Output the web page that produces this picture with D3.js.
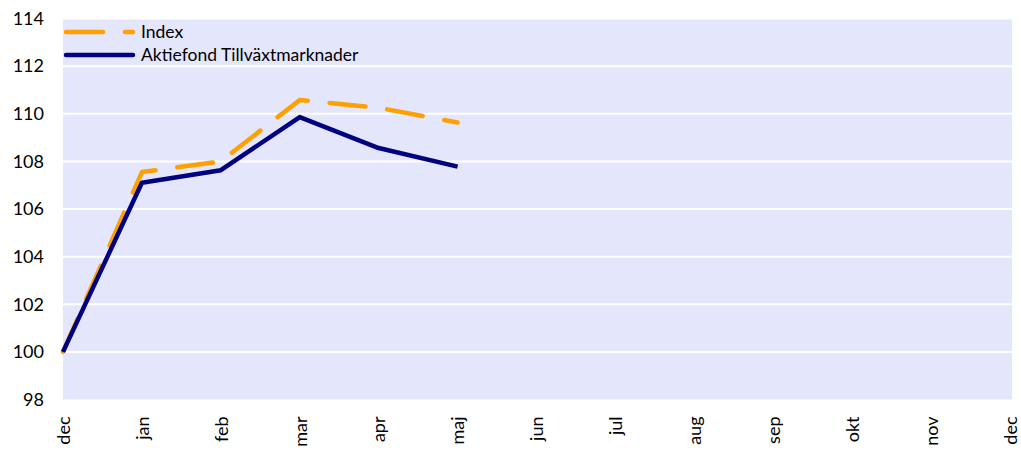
<!DOCTYPE html>
<html><head><meta charset="utf-8">
<script src="https://cdn.jsdelivr.net/npm/d3@7"></script>
<style>body{margin:0;background:#fff}svg{display:block}text{font-family:Lato,"Open Sans",sans-serif;fill:#000}</style>
</head><body><svg id="c" width="1021" height="452"></svg>
<script>
const months = ["dec","jan","feb","mar","apr","maj","jun","jul","aug","sep","okt","nov","dec"];
const indexVals = [100, 107.55, 108.0, 110.58, 110.25, 109.63];
const fundVals = [100, 107.1, 107.63, 109.86, 108.56, 107.78];
const yTicks = [98,100,102,104,106,108,110,112,114];
const seriesNames = ["Index","Aktiefond Tillväxtmarknader"];

const svg = d3.select("#c");
const L=63,R=1010,T=18.5,B=399.5;
const x = d3.scaleLinear().domain([0, months.length-1]).range([L,R]);
const y = d3.scaleLinear().domain([98,114]).range([B,T]);

svg.append("rect").attr("x",L).attr("y",T).attr("width",R-L+2).attr("height",B-T).attr("fill","#E4E6FC");
svg.append("g").selectAll("line").data(yTicks.slice(1)).join("line")
  .attr("x1",L).attr("x2",R+2).attr("y1",d=>y(d)).attr("y2",d=>y(d))
  .attr("stroke","#fff").attr("stroke-width",2);

const yAxis = svg.append("g").attr("transform",`translate(${L},0)`)
  .call(d3.axisLeft(y).tickValues(yTicks).tickSize(0).tickPadding(19));
yAxis.select(".domain").remove();
yAxis.selectAll("text").style("font-size","18px");

const xAxis = svg.append("g").attr("transform",`translate(0,${B})`)
  .call(d3.axisBottom(x).tickValues(d3.range(months.length)).tickFormat(i=>months[i]).tickSize(0));
xAxis.select(".domain").remove();
xAxis.selectAll("text").style("font-size","18px")
  .attr("text-anchor","end").attr("transform","rotate(-90)").attr("x",-17).attr("y",0).attr("dy","0.35em");

const line = d3.line().x((d,i)=>x(i)).y(d=>y(d));
svg.append("path").datum(indexVals).attr("d",line).attr("fill","none")
  .attr("stroke","#FFA000").attr("stroke-width",4.5).attr("stroke-dasharray","36,22").attr("stroke-linecap","round").attr("stroke-linejoin","round");
svg.append("path").datum(fundVals).attr("d",line).attr("fill","none")
  .attr("stroke","#000080").attr("stroke-width",4.5).attr("stroke-linejoin","round");

// legend
const lg = svg.append("g");
lg.append("line").attr("x1",66).attr("x2",103).attr("y1",32).attr("y2",32).attr("stroke","#FFA000").attr("stroke-width",4.5).attr("stroke-linecap","round");
lg.append("line").attr("x1",125).attr("x2",133).attr("y1",32).attr("y2",32).attr("stroke","#FFA000").attr("stroke-width",4.5).attr("stroke-linecap","round");
lg.append("line").attr("x1",66).attr("x2",133).attr("y1",55).attr("y2",55).attr("stroke","#000080").attr("stroke-width",4.5).attr("stroke-linecap","round");
lg.selectAll("text").data(seriesNames).join("text").attr("x",141).attr("y",(d,i)=>32+i*23).attr("dy","0.35em")
  .style("font-size","17.5px").text(d=>d);
</script></body></html>
